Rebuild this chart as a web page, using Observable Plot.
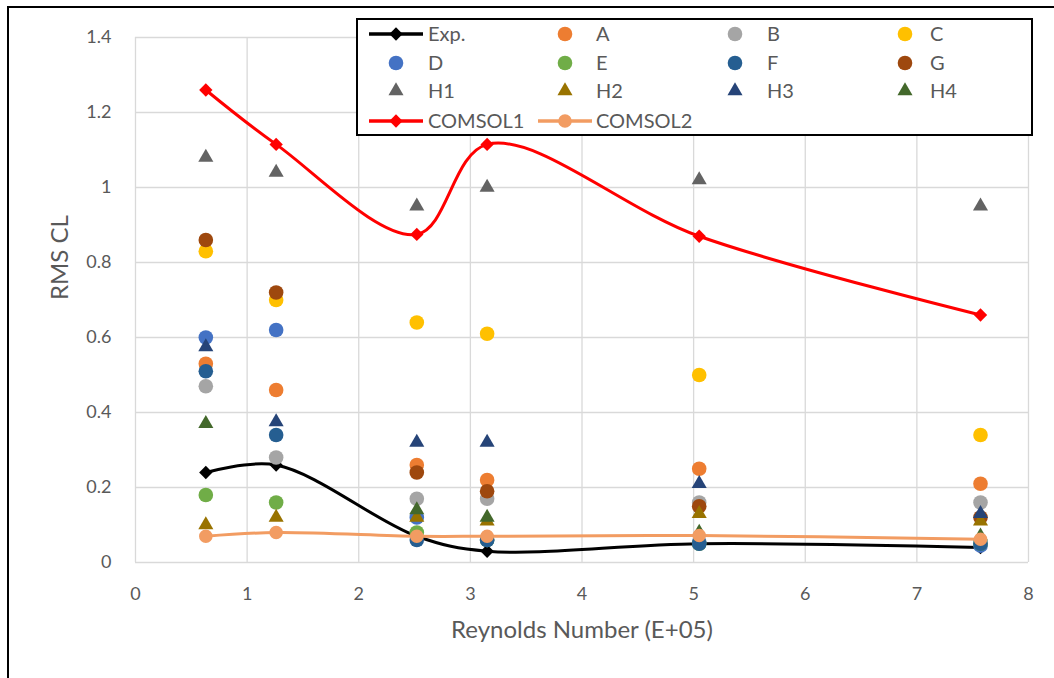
<!DOCTYPE html>
<html><head><meta charset="utf-8">
<script src="https://cdn.jsdelivr.net/npm/d3@7"></script>
<script src="https://cdn.jsdelivr.net/npm/@observablehq/plot@0.6"></script>
<style>
html,body{margin:0;padding:0;background:#fff;overflow:hidden;}
#wrap{position:relative;width:1054px;height:678px;overflow:hidden;}
#frame{position:absolute;left:7px;top:6px;width:1100px;height:720px;border:2px solid #000;box-sizing:border-box;pointer-events:none;}
#legend{position:absolute;left:356px;top:18px;width:677px;height:118px;border:2px solid #000;background:#fff;box-sizing:border-box;}
.li{position:absolute;height:0;}
.li svg{position:absolute;overflow:visible;}
.li span{position:absolute;font-family:Lato,"Open Sans",sans-serif;font-size:20px;color:#595959;line-height:20px;top:-11px;white-space:nowrap;}
</style></head>
<body><div id="wrap"><div id="chart"></div><div id="frame"></div><div id="legend"></div></div>
<script>
// Reynolds number (E+05)
const re = [0.63, 1.26, 2.52, 3.15, 5.05, 7.57];
// RMS CL per series
const expV     = [0.24, 0.26, 0.07, 0.03, 0.05, 0.04];
const aV       = [0.53, 0.46, 0.26, 0.22, 0.25, 0.21];
const bV       = [0.47, 0.28, 0.17, 0.17, 0.16, 0.16];
const cV       = [0.83, 0.70, 0.64, 0.61, 0.50, 0.34];
const dV       = [0.60, 0.62, 0.12, 0.06, 0.055, 0.045];
const eV       = [0.18, 0.16, 0.08, 0.06, 0.05, 0.05];
const fV       = [0.51, 0.34, 0.06, 0.06, 0.05, 0.05];
const gV       = [0.86, 0.72, 0.24, 0.19, 0.15, 0.12];
const h1V      = [1.08, 1.04, 0.95, 1.00, 1.02, 0.95];
const h2V      = [0.10, 0.12, 0.12, 0.11, 0.13, 0.11];
const h3V      = [0.575, 0.375, 0.32, 0.32, 0.21, 0.13];
const h4V      = [0.37, null, 0.14, 0.12, 0.08, 0.07];
const comsol1V = [1.26, 1.115, 0.875, 1.115, 0.87, 0.66];
const comsol2V = [0.07, 0.08, 0.07, 0.07, 0.072, 0.062];

const seriesNames = ["Exp.","A","B","C","D","E","F","G","H1","H2","H3","H4","COMSOL1","COMSOL2"];
const seriesValues = [expV,aV,bV,cV,dV,eV,fV,gV,h1V,h2V,h3V,h4V,comsol1V,comsol2V];
const xTicks = [0,1,2,3,4,5,6,7,8];
const yTicks = [0,0.2,0.4,0.6,0.8,1,1.2,1.4];
const xTitle = "Reynolds Number (E+05)";
const yTitle = "RMS CL";

// styles
const style = {
  "Exp.":   {color:"#000000", symbol:"diamond2", r:6, line:true},
  "A":      {color:"#ED7D31", symbol:"circle", r:7.3},
  "B":      {color:"#A5A5A5", symbol:"circle", r:7.3},
  "C":      {color:"#FFC000", symbol:"circle", r:7.3},
  "D":      {color:"#4472C4", symbol:"circle", r:7.3},
  "E":      {color:"#70AD47", symbol:"circle", r:7.3},
  "F":      {color:"#255E91", symbol:"circle", r:7.3},
  "G":      {color:"#9E480E", symbol:"circle", r:7.3},
  "H1":     {color:"#636363", symbol:"triangle", r:5.6},
  "H2":     {color:"#997300", symbol:"triangle", r:5.6},
  "H3":     {color:"#264478", symbol:"triangle", r:5.6},
  "H4":     {color:"#43682B", symbol:"triangle", r:5.6},
  "COMSOL1":{color:"#FF0000", symbol:"diamond2", r:6, line:true},
  "COMSOL2":{color:"#F29C62", symbol:"circle", r:6.8, line:true}
};

const rows = seriesNames.flatMap((name,i) =>
  re.map((x,j) => ({name, x, y: seriesValues[i][j]})).filter(d => d.y != null));

const marks = [
  Plot.gridX(xTicks, {stroke:"#d9d9d9", strokeOpacity:1, strokeWidth:1.3}),
  Plot.gridY(yTicks, {stroke:"#d9d9d9", strokeOpacity:1, strokeWidth:1.3}),
  Plot.text([xTitle], {frameAnchor:"bottom", dy:68, fontSize:24, fill:"#595959", lineAnchor:"middle"}),
  Plot.text([yTitle], {frameAnchor:"left", dx:-75, rotate:-90, fontSize:24, fill:"#595959", lineAnchor:"middle"})
];
for (const name of seriesNames) {
  const s = style[name];
  const data = rows.filter(d => d.name === name);
  if (s.line) marks.push(Plot.line(data, {x:"x", y:"y", stroke:s.color, strokeWidth:3, curve:"catmull-rom"}));
  marks.push(Plot.dot(data, {x:"x", y:"y", fill:s.color, stroke:"none", symbol:()=>s.symbol, r:s.r}));
}

const chart = Plot.plot({
  width:1054, height:678,
  marginLeft:135, marginRight:26, marginTop:37, marginBottom:116,
  style:{fontFamily:"Lato, 'Open Sans', sans-serif", fontSize:"18px", color:"#595959", background:"#fff"},
  x:{domain:[0,8], ticks:xTicks, tickSize:0, tickPadding:25, label:null},
  y:{domain:[0,1.4], ticks:yTicks, tickSize:0, tickPadding:24, tickFormat:d => String(+d.toFixed(1)), label:null},
  symbol:{type:"identity"},
  marks
});
document.getElementById("chart").appendChild(chart);

// legend (positions relative to the legend box)
const legend = document.getElementById("legend");
const colX = [38, 207, 377, 547];
const textX = [70, 238, 409, 572];
const rowY = [14, 43, 71, 101];
const layout = [
  ["Exp.",0,0],["A",1,0],["B",2,0],["C",3,0],
  ["D",0,1],["E",1,1],["F",2,1],["G",3,1],
  ["H1",0,2],["H2",1,2],["H3",2,2],["H4",3,2],
  ["COMSOL1",0,3],["COMSOL2",1,3]
];
for (const [name,c,r] of layout) {
  const s = style[name];
  const item = document.createElement("div");
  item.className = "li";
  item.style.left = "0px"; item.style.top = rowY[r] + "px";
  const svg = d3.create("svg").attr("width",60).attr("height",20)
    .style("left", (colX[c]-30)+"px").style("top","-10px");
  if (s.line) svg.append("line").attr("x1",3).attr("x2",57).attr("y1",10).attr("y2",10)
    .attr("stroke",s.color).attr("stroke-width",3.5);
  const sym = {circle:d3.symbolCircle, triangle:d3.symbolTriangle, diamond2:d3.symbolDiamond2}[s.symbol];
  svg.append("path").attr("transform","translate(30,10)")
    .attr("d", d3.symbol(sym, Math.PI*s.r*s.r)()).attr("fill", s.color);
  item.appendChild(svg.node());
  const sp = document.createElement("span");
  sp.textContent = name;
  sp.style.left = textX[c] + "px";
  item.appendChild(sp);
  legend.appendChild(item);
}
</script></body></html>
